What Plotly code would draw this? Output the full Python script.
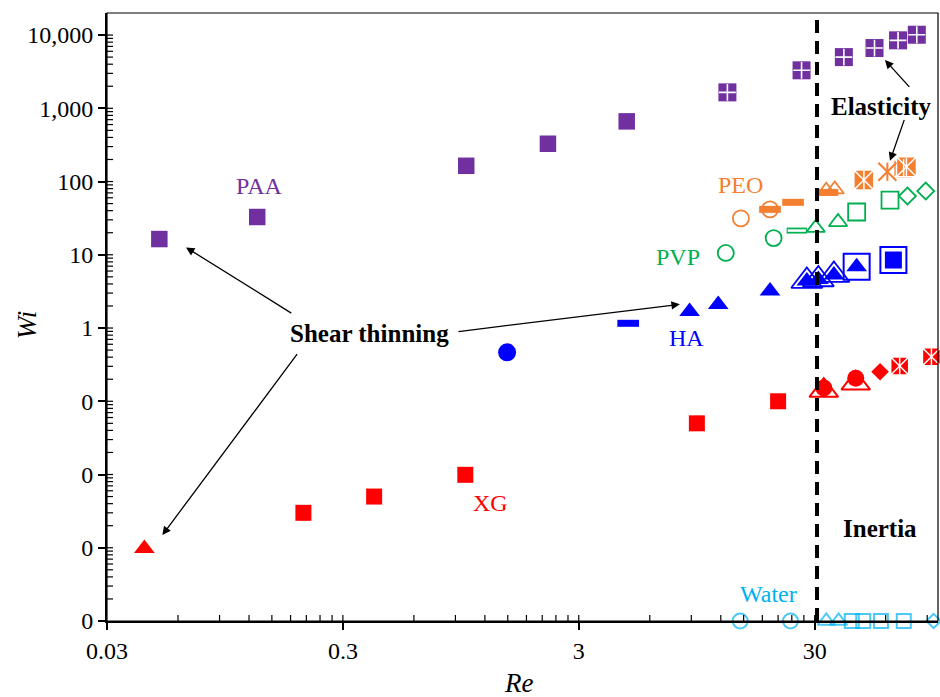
import math
import plotly.graph_objects as go

# ---------------- data (Re, Wi) ----------------
# PAA (purple)
PAA_re = [0.050, 0.130, 1.00, 2.22, 4.79]
PAA_wi = [16.4, 32.8, 164, 328, 663]
PAA_el_re = [12.8, 26.4, 39.9, 53.8, 67.7, 81.3]
PAA_el_wi = [1650, 3300, 5000, 6650, 8470, 10100]

# PEO (orange)
PEO_circ_re = [14.6, 19.4]
PEO_circ_wi = [31.4, 41.7]
PEO_bar_re = [19.4, 24.3, 34.0]
PEO_bar_wi = [41.7, 52.0, 71.0]
PEO_tri_re = [33.6, 36.5]
PEO_tri_wi = [75.0, 78.0]
PEO_sqx_re = [48.5, 71.5, 73.5]
PEO_sqx_wi = [105, 152, 159]
PEO_ast_re = [61.0]
PEO_ast_wi = [136]

# PVP (green)
PVP_circ_re = [12.6, 20.1]
PVP_circ_wi = [10.6, 16.9]
PVP_bar_re = [25.2]
PVP_bar_wi = [21.4]
PVP_tri_re = [30.3, 37.7]
PVP_tri_wi = [23.3, 28.0]
PVP_sq_re = [45.2, 62.6]
PVP_sq_wi = [38.4, 55.9]
PVP_dia_re = [74.2, 88.7]
PVP_dia_wi = [63.4, 74.2]

# HA (blue)
HA_circ_re = [1.49]
HA_circ_wi = [0.466]
HA_bar_re = [4.86]
HA_bar_wi = [1.16]
HA_tri_re = [8.85, 11.7, 19.4, 27.8, 31.1, 36.2, 45.2]
HA_tri_wi = [1.68, 2.09, 3.20, 4.38, 4.60, 5.29, 6.87]
HA_ring_tri_re = [27.8, 31.1, 36.2]
HA_ring_tri_wi = [4.38, 4.60, 5.29]
HA_ring_sq_re = [45.2, 64.7]
HA_ring_sq_wi = [6.87, 8.48]
HA_sq_re = [64.7]
HA_sq_wi = [8.48]

# XG (red)
XG_tri_re = [0.0432]
XG_tri_wi = [0.00098]
XG_sq_re = [0.204, 0.407, 0.991, 9.5, 21.0]
XG_sq_wi = [0.0030, 0.0050, 0.0099, 0.050, 0.100]
XG_otri_re = [32.8, 44.8]
XG_otri_wi = [0.140, 0.176]
XG_circ_re = [32.8, 44.8]
XG_circ_wi = [0.152, 0.206]
XG_dia_re = [56.8]
XG_dia_wi = [0.253]
XG_sqx_re = [68.8, 93.8]
XG_sqx_wi = [0.303, 0.405]

# Water (Wi = 0, drawn on the bottom axis)
W_re = [14.5, 23.7, 33.6, 37.9, 43.1, 48.2, 57.3, 71.6, 95.8]
W_wi = [0.0001] * 9
W_sym = ["circle-open", "circle-open", "triangle-up-open", "triangle-up-open",
         "square-open", "square-open", "square-open", "square-open", "diamond-open"]

# axes
X_RANGE = [0.03, 100]
Y_RANGE = [0.0001, 20000]
X_TICKS = [0.03, 0.3, 3, 30]
X_TICKTEXT = ["0.03", "0.3", "3", "30"]
Y_TICKS = [0.0001, 0.001, 0.01, 0.1, 1, 10, 100, 1000, 10000]
Y_TICKTEXT = ["0", "0", "0", "0", "1", "10", "100", "1,000", "10,000"]
RE_CRIT = 30.7

PURPLE = "#7030A0"
ORANGE = "#F47F30"
GREEN = "#00B050"
BLUE = "#0000FF"
RED = "#FF0000"
CYAN = "#00B0F0"
FONT = "Liberation Serif, Times New Roman, serif"

PLOT_W = 940 - 107 - 2
PLOT_H = 697 - 13 - 76

fig = go.Figure()


def add(x, y, symbol, size, color, line_color=None, line_width=0):
    fig.add_trace(go.Scatter(
        x=x, y=y, mode="markers", cliponaxis=False, showlegend=False,
        hoverinfo="skip",
        marker=dict(symbol=symbol, size=size, color=color,
                    line=dict(color=line_color or color, width=line_width))))


# PAA
add(PAA_re, PAA_wi, "square", 16.5, PURPLE)
add(PAA_el_re, PAA_el_wi, "square", 18, PURPLE)
add(PAA_el_re, PAA_el_wi, "cross-thin", 12, PURPLE, "white", 1.6)

# PVP
add(PVP_circ_re, PVP_circ_wi, "circle-open", 16, GREEN, GREEN, 1.8)
add(PVP_bar_re, PVP_bar_wi, "line-ew", 14.5, GREEN, GREEN, 6)
add(PVP_bar_re, PVP_bar_wi, "line-ew", 13, "white", "white", 2.5)
add(PVP_tri_re, PVP_tri_wi, "triangle-up-open", 16, GREEN, GREEN, 1.8)
add(PVP_sq_re, PVP_sq_wi, "square-open", 17, GREEN, GREEN, 1.8)
add(PVP_dia_re, PVP_dia_wi, "diamond-open", 13, GREEN, GREEN, 1.8)

# PEO
add(PEO_circ_re, PEO_circ_wi, "circle-open", 16, ORANGE, ORANGE, 1.8)
add(PEO_bar_re, PEO_bar_wi, "line-ew", 15.5, ORANGE, ORANGE, 7)
add(PEO_tri_re, PEO_tri_wi, "triangle-up-open", 16, ORANGE, ORANGE, 1.8)
add(PEO_sqx_re, PEO_sqx_wi, "square-x", 20, ORANGE, "white", 1.5)
add(PEO_sqx_re, PEO_sqx_wi, "line-ns", 13, ORANGE, "white", 1.5)
add(PEO_ast_re, PEO_ast_wi, "x-thin", 18, ORANGE, ORANGE, 2)
add(PEO_ast_re, PEO_ast_wi, "line-ns", 13, ORANGE, ORANGE, 2)

# HA
add(HA_circ_re, HA_circ_wi, "circle", 18, BLUE)
add(HA_bar_re, HA_bar_wi, "line-ew", 15.5, BLUE, BLUE, 7)
add(HA_tri_re, HA_tri_wi, "triangle-up", 18, BLUE)
add(HA_ring_tri_re, HA_ring_tri_wi, "triangle-up-open", 27, BLUE, BLUE, 1.8)
add(HA_ring_sq_re, HA_ring_sq_wi, "square-open", 26, BLUE, BLUE, 2)
add(HA_sq_re, HA_sq_wi, "square", 17, BLUE)

# XG
add(XG_tri_re, XG_tri_wi, "triangle-up", 18, RED)
add(XG_sq_re, XG_sq_wi, "square", 16, RED)
add(XG_otri_re, XG_otri_wi, "triangle-up-open", 25, RED, RED, 2)
add(XG_circ_re, XG_circ_wi, "circle", 17, RED)
add(XG_dia_re, XG_dia_wi, "diamond", 13.5, RED)
add(XG_sqx_re, XG_sqx_wi, "square-x", 18, RED, "white", 1.5)
add(XG_sqx_re, XG_sqx_wi, "line-ns", 12, RED, "white", 1.5)

# Water
fig.add_trace(go.Scatter(
    x=W_re, y=W_wi, mode="markers", cliponaxis=False, showlegend=False,
    hoverinfo="skip",
    marker=dict(symbol=W_sym, size=[15, 15, 15, 15, 14, 14, 14, 14, 11],
                color=CYAN, line=dict(color=CYAN, width=2))))

L = math.log10


def label(text, re, wi, color, size=24, bold=False):
    fig.add_annotation(
        x=L(re), y=L(wi), xref="x", yref="y", showarrow=False,
        xanchor="center", yanchor="middle",
        text=("<b>%s</b>" % text) if bold else text,
        font=dict(family=FONT, size=size, color=color))


def arrow(re_head, wi_head, re_tail, wi_tail):
    fig.add_annotation(
        x=L(re_head), y=L(wi_head), ax=L(re_tail), ay=L(wi_tail),
        xref="x", yref="y", axref="x", ayref="y", text="",
        showarrow=True, arrowhead=2, arrowsize=1.3, arrowwidth=1.3,
        arrowcolor="black")


label("PAA", 0.132, 87, PURPLE)
label("PEO", 14.6, 89.6, ORANGE)
label("PVP", 7.94, 9.3, GREEN)
label("HA", 8.56, 0.723, BLUE)
label("XG", 1.27, 0.0041, RED)
label("Water", 19.05, 0.000234, CYAN)
label("Shear thinning", 0.388, 0.847, "black", 25, True)
label("Elasticity", 57.2, 1050, "black", 25, True)
label("Inertia", 56.6, 0.00186, "black", 25, True)

arrow(0.0649, 12.6, 0.184, 1.55)
arrow(0.0515, 0.00149, 0.194, 0.46)
arrow(8.05, 2.107, 0.914, 0.890)
arrow(59.6, 4560, 76.6, 1871)
arrow(62.6, 192, 72.3, 729)

# axis titles
fig.add_annotation(x=0.4946, y=-0.102, xref="paper", yref="paper",
                   xanchor="center", yanchor="middle",
                   text="<i>Re</i>", showarrow=False,
                   font=dict(family=FONT, size=27, color="black"))
fig.add_annotation(x=-0.096, y=0.487, xref="paper", yref="paper",
                   xanchor="center", yanchor="middle",
                   text="<i>Wi</i>", showarrow=False, textangle=-90,
                   font=dict(family=FONT, size=27, color="black"))

# dashed Re = 30 line and frame
fig.add_shape(type="line", xref="x", yref="paper", x0=RE_CRIT, x1=RE_CRIT,
              y0=0, y1=1, layer="above",
              line=dict(color="black", width=4, dash="13px,8px"))
fig.add_shape(type="rect", xref="paper", yref="paper", x0=0, x1=1, y0=0, y1=1,
              layer="above", line=dict(color="black", width=1.2))

# minor (inside) tick marks, Excel style: multiples of the axis base
x_minor = [0.03 * k * 10 ** n for n in range(0, 4) for k in range(1, 10)]
y_minor = [k * 10.0 ** n for n in range(-4, 5) for k in range(1, 10)]
TICK_IN = 6
for v in x_minor:
    if X_RANGE[0] < v < X_RANGE[1]:
        fig.add_shape(type="line", xref="x", yref="paper", x0=v, x1=v,
                      y0=0, y1=TICK_IN / PLOT_H, layer="above",
                      line=dict(color="black", width=1.2))
for v in y_minor:
    if Y_RANGE[0] < v < Y_RANGE[1]:
        fig.add_shape(type="line", xref="paper", yref="y", x0=0,
                      x1=TICK_IN / PLOT_W, y0=v, y1=v, layer="above",
                      line=dict(color="black", width=1.2))

fig.update_layout(
    width=940, height=697,
    margin=dict(l=107, r=2, t=13, b=76),
    paper_bgcolor="white", plot_bgcolor="white",
    font=dict(family=FONT, size=24, color="black"),
    xaxis=dict(type="log", range=[L(X_RANGE[0]), L(X_RANGE[1])],
               tickmode="array", tickvals=X_TICKS, ticktext=X_TICKTEXT,
               ticks="outside", ticklen=7, tickwidth=1.5, tickcolor="black",
               showline=True, linewidth=2, linecolor="black",
               showgrid=False, zeroline=False,
               tickfont=dict(family=FONT, size=24, color="black")),
    yaxis=dict(type="log", range=[L(Y_RANGE[0]), L(Y_RANGE[1])],
               tickmode="array", tickvals=Y_TICKS, ticktext=Y_TICKTEXT,
               ticks="outside", ticklen=7, tickwidth=1.5, tickcolor="black",
               showline=True, linewidth=2, linecolor="black",
               showgrid=False, zeroline=False,
               tickfont=dict(family=FONT, size=24, color="black")),
)

fig.write_html("out.html")
